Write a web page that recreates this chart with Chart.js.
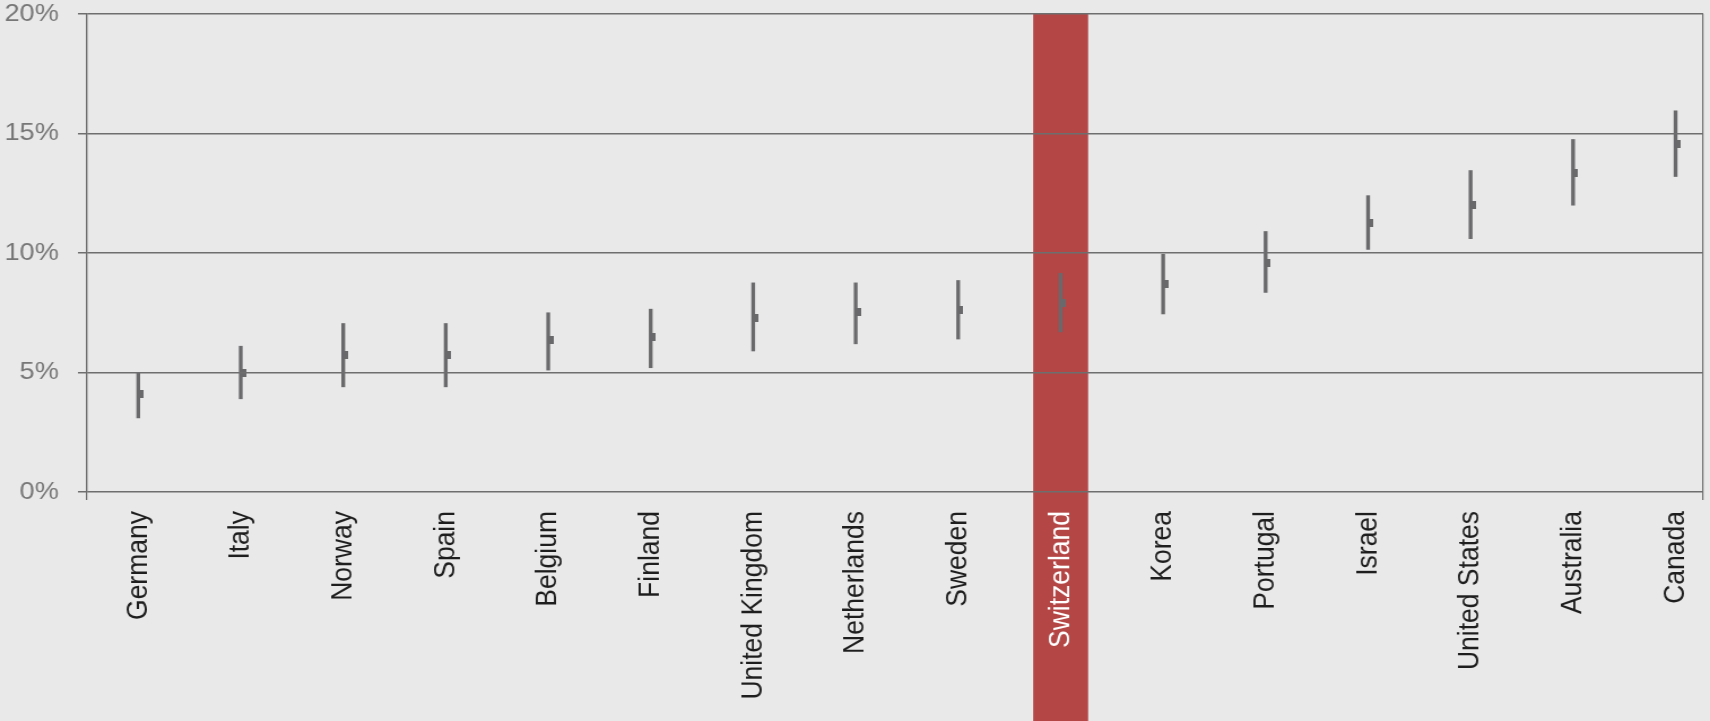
<!DOCTYPE html>
<html>
<head>
<meta charset="utf-8">
<script src="https://cdn.jsdelivr.net/npm/chart.js@4.4.1/dist/chart.umd.min.js"></script>
<style>
  html, body { margin: 0; padding: 0; background: #e9e9e9; overflow: hidden; }
</style>
</head>
<body>
<canvas id="chart" width="1513" height="721" style="display:block;width:1710px;height:721px"></canvas>
<script>
// Countries, ordered by central estimate
const countries = ['Germany', 'Italy', 'Norway', 'Spain', 'Belgium', 'Finland', 'United Kingdom',
  'Netherlands', 'Sweden', 'Switzerland', 'Korea', 'Portugal', 'Israel', 'United States',
  'Australia', 'Canada'];
// Lower and upper end of each range, in percent
const rangeLow  = [3.1, 3.9, 4.4, 4.4, 5.1, 5.2, 5.9, 6.2, 6.4, 6.7, 7.45, 8.35, 10.15, 10.6, 12.0, 13.2];
const rangeHigh = [5.0, 6.1, 7.05, 7.05, 7.5, 7.65, 8.75, 8.75, 8.85, 9.15, 9.95, 10.9, 12.4, 13.45, 14.75, 15.95];
// Central estimate, in percent
const estimate  = [4.1, 5.0, 5.75, 5.75, 6.35, 6.5, 7.3, 7.55, 7.6, 7.9, 8.7, 9.6, 11.25, 12.0, 13.35, 14.55];
// Value axis ticks, in percent
const yTicks = [0, 5, 10, 15, 20];
// Highlighted country and the vertical span of its band
const highlighted = 'Switzerland';
const highlightSpan = [-10, 20];

const hi = countries.indexOf(highlighted);
const X_MIN = -0.5;
const X_MAX = 15.27;
const FONT = '"Liberation Sans", Arial, Helvetica, sans-serif';
const LINE = '#6e6e6e';
const BAR = '#69696c';
const RED = '#b44646';

// Estimate marker: a small notch on the right-hand side of the range line
const marker = document.createElement('canvas');
marker.width = 9;
marker.height = 8;
const mctx = marker.getContext('2d');
mctx.fillStyle = BAR;
mctx.fillRect(4, 0, 5, 8);

new Chart(document.getElementById('chart'), {
  type: 'bar',
  data: {
    datasets: [
      {
        type: 'scatter',
        label: 'Estimate',
        data: countries.map((c, i) => ({ x: i, y: estimate[i] })),
        pointStyle: marker,
        pointRadius: 5,
        order: 0
      },
      {
        label: 'Range',
        data: countries.map((c, i) => ({ x: i, y: [rangeLow[i], rangeHigh[i]] })),
        backgroundColor: BAR,
        barThickness: 2.7,
        grouped: false,
        order: 1
      },
      {
        label: highlighted,
        data: [{ x: hi, y: highlightSpan }],
        backgroundColor: RED,
        barThickness: 48,
        grouped: false,
        clip: false,
        order: 2
      }
    ]
  },
  options: {
    responsive: false,
    devicePixelRatio: 1,
    animation: false,
    events: [],
    layout: { padding: { top: 14, right: 5, bottom: 0, left: 0 } },
    plugins: { legend: { display: false }, tooltip: { enabled: false } },
    scales: {
      x: {
        type: 'linear',
        min: X_MIN,
        max: X_MAX,
        offset: false,
        afterBuildTicks: s => {
          s.ticks = [X_MIN, ...countries.map((c, i) => i), X_MAX].map(v => ({ value: v }));
        },
        afterFit: s => { s.height = 229; s.paddingLeft = 0; s.paddingRight = 0; },
        grid: {
          offset: false,
          z: 1,
          color: c => (c.index === 0 || c.index === countries.length + 1) ? LINE : 'rgba(0,0,0,0)',
          lineWidth: 1.2,
          tickLength: 8
        },
        border: { display: false, z: 1 },
        ticks: {
          z: 1,
          autoSkip: false,
          minRotation: 90,
          maxRotation: 90,
          padding: 11,
          font: { family: FONT, size: 26.5 },
          color: c => (c.tick && c.tick.value === hi) ? '#ffffff' : '#1e1e1e',
          callback: v => (Number.isInteger(v) && v >= 0 && v < countries.length) ? countries[v] : ''
        }
      },
      y: {
        min: 0,
        max: 20,
        afterBuildTicks: s => { s.ticks = yTicks.map(v => ({ value: v })); },
        afterFit: s => { s.width = 77; s.paddingTop = 0; s.paddingBottom = 0; },
        grid: { z: 1, color: LINE, lineWidth: 1.5, tickLength: 8 },
        border: { z: 1, display: true, color: LINE, width: 1.2 },
        ticks: {
          z: 1,
          padding: 17,
          font: { family: FONT, size: 24 },
          color: '#777777',
          callback: v => v + '%'
        }
      }
    }
  }
});
</script>
</body>
</html>
